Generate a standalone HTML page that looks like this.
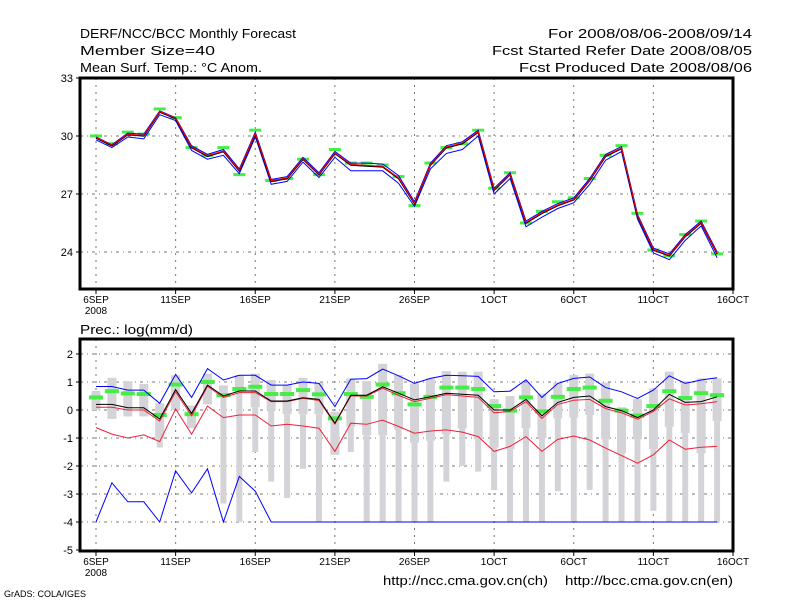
<!DOCTYPE html>
<html><head><meta charset="utf-8"><style>
body{margin:0;background:#fff;width:800px;height:600px;overflow:hidden}
svg text{font-family:"Liberation Sans",sans-serif;fill:#000}
</style></head><body>
<svg id="c" width="800" height="600" xmlns="http://www.w3.org/2000/svg">
<rect width="800" height="600" fill="#fff"/>
<g font-size="13">
<text x="80" y="38" textLength="216" lengthAdjust="spacingAndGlyphs">DERF/NCC/BCC Monthly Forecast</text>
<text x="80" y="55" textLength="135" lengthAdjust="spacingAndGlyphs">Member Size=40</text>
<text x="80" y="72" textLength="182" lengthAdjust="spacingAndGlyphs">Mean Surf. Temp.: °C Anom.</text>
<text x="548" y="38" textLength="204" lengthAdjust="spacingAndGlyphs">For 2008/08/06-2008/09/14</text>
<text x="492" y="55" textLength="260" lengthAdjust="spacingAndGlyphs">Fcst Started Refer Date 2008/08/05</text>
<text x="519" y="72" textLength="233" lengthAdjust="spacingAndGlyphs">Fcst Produced Date 2008/08/06</text>
<text x="80" y="334" textLength="113" lengthAdjust="spacingAndGlyphs">Prec.: log(mm/d)</text>
<text x="383" y="585" textLength="165" lengthAdjust="spacingAndGlyphs">http://ncc.cma.gov.cn(ch)</text>
<text x="565" y="585" textLength="168" lengthAdjust="spacingAndGlyphs">http://bcc.cma.gov.cn(en)</text>
</g>
<text x="4" y="597" font-size="9">GrADS: COLA/IGES</text>
<g id="top"></g><g id="bot"></g>
</svg>
<script>
const days=["6SEP","11SEP","16SEP","21SEP","26SEP","1OCT","6OCT","11OCT","16OCT"];
const tMean=[29.9,29.5,30.07,30.0,31.24,30.9,29.4,28.95,29.2,28.2,30.1,27.65,27.8,28.8,28.0,29.1,28.5,28.45,28.4,27.8,26.5,28.5,29.4,29.6,30.2,27.2,28.0,25.5,26.0,26.4,26.7,27.7,28.95,29.35,25.85,24.1,23.8,24.8,25.5,23.9];
const tObs=[30.0,29.6,30.2,30.1,31.4,30.95,29.4,29.0,29.4,28.0,30.3,27.7,27.8,28.8,28.0,29.3,28.6,28.6,28.5,27.9,26.4,28.6,29.4,29.6,30.3,27.3,28.1,25.5,26.1,26.6,26.8,27.8,29.0,29.5,26.0,24.1,23.8,24.9,25.6,23.9];
const tUp=[29.95,29.55,30.15,30.1,31.3,30.95,29.5,29.05,29.3,28.3,30.2,27.75,27.9,28.9,28.1,29.2,28.6,28.6,28.55,27.95,26.6,28.6,29.5,29.7,30.3,27.3,28.1,25.6,26.1,26.5,26.8,27.8,29.05,29.45,25.95,24.2,23.9,24.9,25.6,24.0];
const tLo=[29.8,29.4,29.95,29.85,31.1,30.8,29.25,28.8,29.0,28.05,29.95,27.5,27.65,28.65,27.85,28.9,28.2,28.2,28.2,27.55,26.35,28.3,29.1,29.3,30.0,27.0,27.8,25.3,25.8,26.25,26.55,27.5,28.75,29.2,25.7,23.95,23.6,24.6,25.35,23.7];
const pMean=[0.2,0.2,0.08,0.08,-0.32,0.73,-0.12,0.89,0.5,0.68,0.68,0.32,0.32,0.44,0.38,-0.47,0.53,0.53,0.83,0.6,0.36,0.47,0.6,0.56,0.53,0,0,0.38,-0.21,0.27,0.45,0.5,0.12,-0.02,-0.27,0,0.56,0.27,0.3,0.47];
const pRedHi=[0.1,0.1,0.0,0.0,-0.4,0.65,-0.2,0.85,0.45,0.62,0.62,0.3,0.3,0.42,0.34,-0.5,0.5,0.5,0.78,0.52,0.3,0.42,0.55,0.5,0.45,-0.1,-0.05,0.3,-0.3,0.2,0.35,0.38,0.05,-0.1,-0.33,-0.05,0.4,0.18,0.22,0.3];
const pRedLo=[-0.63,-0.86,-1.0,-0.89,-1.13,0.04,-0.86,0.14,-0.27,-0.18,-0.18,-0.57,-0.51,-0.57,-0.65,-1.48,-0.47,-0.51,-0.36,-0.59,-0.83,-0.75,-0.71,-0.79,-0.95,-1.48,-1.3,-0.95,-1.48,-1.05,-0.93,-1.07,-1.36,-1.63,-1.9,-1.6,-1.07,-1.4,-1.33,-1.3];
const pBlueHi=[0.84,0.84,0.71,0.71,0.24,1.27,0.45,1.48,1.07,1.24,1.24,0.89,0.89,1.0,0.95,0.12,1.1,1.12,1.46,1.22,0.95,1.13,1.24,1.22,1.2,0.65,0.67,1.08,0.45,0.95,1.13,1.18,0.8,0.65,0.41,0.71,1.22,0.95,1.07,1.15];
const pBlueLo=[-4,-2.6,-3.28,-3.28,-4,-2.17,-2.96,-2.1,-4,-2.37,-2.9,-4,-4,-4,-4,-4,-4,-4,-4,-4,-4,-4,-4,-4,-4,-4,-4,-4,-4,-4,-4,-4,-4,-4,-4,-4,-4,-4,-4,-4];
const pObs=[0.45,0.67,0.59,0.57,-0.18,0.91,-0.15,1.0,0.53,0.75,0.83,0.57,0.57,0.71,0.56,-0.3,0.57,0.47,0.91,0.6,0.2,0.47,0.8,0.8,0.75,0.14,-0.02,0.45,-0.05,0.47,0.75,0.8,0.33,-0.02,-0.2,0.14,0.67,0.43,0.6,0.53];
const boxTop=[0.68,1.15,1.03,0.93,0.24,1.24,0.16,1.3,0.88,1.25,1.3,1.07,0.89,1.15,0.97,-0.06,1.13,1.03,1.65,1.25,0.95,1.13,1.39,1.37,1.37,0.39,0.5,0.98,0.59,0.98,1.25,1.3,0.98,0.1,0.39,0.77,1.37,1.03,1.13,1.13];
const boxBot=[0,-0.32,-0.23,-0.23,-1.03,0,-0.65,0.2,0.5,0.65,0.1,0,-0.15,-0.15,-0.15,-1.6,-0.6,-0.9,-0.9,-0.7,-1.17,-1.1,-0.86,-0.66,-1.05,-1.34,-1.4,-0.65,-1.0,-0.3,-0.27,-0.18,-1.05,-1.55,-1.05,-1.4,-0.6,-0.83,-1.55,-0.4];
const whiskBot=[0,-0.32,-0.23,-0.23,-1.34,0,-0.65,0.2,-3.34,-4,-1.5,-2.56,-3.14,-2.1,-4,-1.6,-1.5,-4,-4,-4,-4,-4,-2.56,-2.0,-2.2,-2.86,-4,-4,-4,-2.9,-4,-2.86,-4,-4,-4,-3.6,-4,-4,-4,-4];
const topTicks=[24,27,30,33];
const botTicks=[-5,-4,-3,-2,-1,0,1,2];

const NS="http://www.w3.org/2000/svg";
const X=i=>96+i*15.925;
const L=80,R=733;
const yT=v=>78+(33-v)*19.33;
const yB=v=>410-v*28;
function mk(p,tag,at){const e=document.createElementNS(NS,tag);for(const k in at)e.setAttribute(k,at[k]);p.appendChild(e);return e;}
function pts(arr,fy){return arr.map((v,i)=>X(i).toFixed(1)+","+fy(v).toFixed(1)).join(" ");}

function frame(g,top,bot,ticks,fy,nm){
  ticks.forEach(t=>{
    const y=fy(t);
    const gl=mk(g,"line",{x1:L,x2:R,y1:y,y2:y,stroke:"#777","stroke-dasharray":"3,4,1,4","stroke-width":1});
    
    
    mk(g,"line",{x1:L-4,x2:L,y1:y,y2:y,stroke:"#000"});
    const tx=mk(g,"text",{x:L-7,y:y+4,"text-anchor":"end","font-size":"11"});tx.textContent=t;
    
    
  });
  days.forEach((d,k)=>{
    const x=X(k*5);
    if(k<days.length-1){const gl=mk(g,"line",{x1:x,x2:x,y1:top,y2:bot,stroke:"#777","stroke-dasharray":"2,5"});
    
    }
    mk(g,"line",{x1:x,x2:x,y1:bot,y2:bot+5,stroke:"#000"});
    const tx=mk(g,"text",{x:x,y:bot+14,"text-anchor":"middle","font-size":"10"});tx.textContent=d;
    
    
  });
  const yr=mk(g,"text",{x:X(0),y:bot+25,"text-anchor":"middle","font-size":"10"});yr.textContent="2008";
  
  
}
function line(g,arr,fy,col,w,nm){const p=mk(g,"polyline",{points:pts(arr,fy),fill:"none",stroke:col,"stroke-width":w});
  
  }

// top
const gt=document.getElementById("top");
frame(gt,78,289,topTicks,yT,"top-y");
tObs.forEach((v,i)=>{const r=mk(gt,"rect",{x:X(i)-6,y:yT(v)-1.5,width:12,height:3,fill:"#44ee44"});
  
  });
line(gt,tUp,yT,"#00f",1,"temp-upper-line");
line(gt,tLo,yT,"#00f",1,"temp-lower-line");
line(gt,tMean,yT,"#000",1.5,"temp-mean-line");
line(gt,tMean.map(v=>v+0.03),yT,"#f00",1,"temp-red-line");
mk(gt,"rect",{x:L,y:78,width:R-L,height:211,fill:"none",stroke:"#000","stroke-width":3});

// bottom
const gb=document.getElementById("bot");
frame(gb,339,551,botTicks,yB,"bottom-y");
boxTop.forEach((v,i)=>{
  const w=mk(gb,"rect",{x:X(i)-3,y:yB(boxBot[i]),width:6,height:Math.max(0,yB(whiskBot[i])-yB(boxBot[i])),fill:"#d4d4d8"});
  
  
  const b=mk(gb,"rect",{x:X(i)-4.5,y:yB(v),width:9,height:yB(boxBot[i])-yB(v),fill:"#d4d4d8"});
  
  
});
pObs.forEach((v,i)=>{const r=mk(gb,"rect",{x:X(i)-7,y:yB(v)-2,width:14,height:4,fill:"#44ee44"});
  
  });
line(gb,pBlueHi,yB,"#00f",1,"prec-blue-upper-line");
line(gb,pBlueLo,yB,"#00f",1,"prec-blue-lower-line");
line(gb,pRedHi,yB,"#f0203a",1,"prec-red-upper-line");
line(gb,pRedLo,yB,"#f0203a",1,"prec-red-lower-line");
line(gb,pMean,yB,"#000",1,"prec-mean-line");
mk(gb,"rect",{x:L,y:339,width:R-L,height:212,fill:"none",stroke:"#000","stroke-width":3});
</script>
</body></html>
